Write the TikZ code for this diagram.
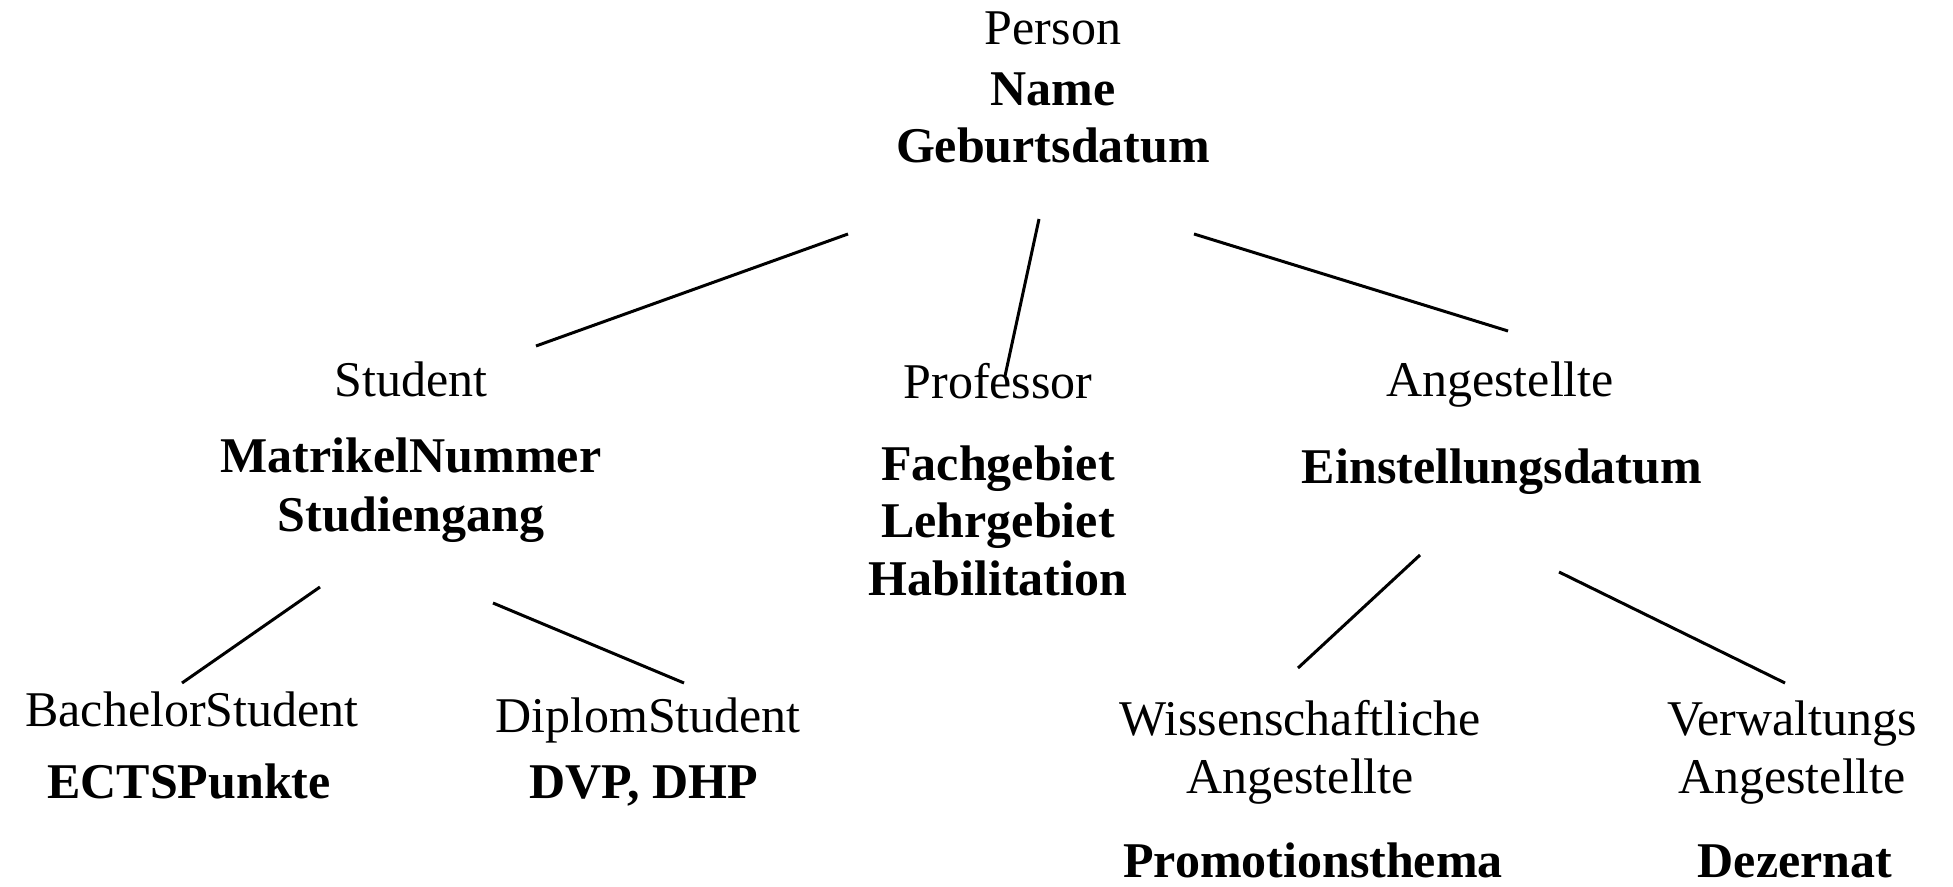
\documentclass[tikz,border=0pt]{standalone}
\usepackage{fontspec}
\setmainfont{Liberation Serif}
\begin{document}
\begin{tikzpicture}[x=0.5pt,y=-0.5pt,
  lbl/.style={anchor=base,inner sep=0pt,font=\fontsize{25}{30}\selectfont},
  attr/.style={lbl,font=\fontsize{25}{30}\selectfont\bfseries},
  edge/.style={line width=1.5pt}]
\useasboundingbox (0,0) rectangle (1953,887);

% root class
\node[lbl]  (person)  at (1053,45)  {Person};
\node[attr] (pname)   at (1053,106) {Name};
\node[attr] (pgeb)    at (1053,163) {Geburtsdatum};

% second level
\node[lbl]  (student) at (411,396)  {Student};
\node[attr] (smat)    at (411,473)  {MatrikelNummer};
\node[attr] (sstud)   at (411,531)  {Studiengang};

\node[lbl]  (prof)    at (998,399)  {Professor};
\node[attr] (pfach)   at (998,480)  {Fachgebiet};
\node[attr] (plehr)   at (998,537)  {Lehrgebiet};
\node[attr] (phab)    at (998,595)  {Habilitation};

\node[lbl]  (ang)     at (1500,397) {Angestellte};
\node[attr] (aein)    at (1502,483) {Einstellungsdatum};

% third level
\node[lbl]  (bach)    at (192,726)  {BachelorStudent};
\node[attr] (bects)   at (189,798)  {ECTSPunkte};
\node[lbl]  (dipl)    at (648,732)  {DiplomStudent};
\node[attr] (ddvp)    at (644,798)  {DVP, DHP};

\node[lbl]  (wiss1)   at (1300,735) {Wissenschaftliche};
\node[lbl]  (wiss2)   at (1300,793) {Angestellte};
\node[attr] (wprom)   at (1313,877) {Promotionsthema};
\node[lbl]  (verw1)   at (1792,735) {Verwaltungs};
\node[lbl]  (verw2)   at (1792,793) {Angestellte};
\node[attr] (vdez)    at (1795,877) {Dezernat};

% connector end points
\coordinate (c1a) at (848,234);  \coordinate (c1b) at (536,346);
\coordinate (c2a) at (1039,219); \coordinate (c2b) at (1005,376);
\coordinate (c3a) at (1194,234); \coordinate (c3b) at (1508,331);
\coordinate (c4a) at (320,587);  \coordinate (c4b) at (182,683);
\coordinate (c5a) at (493,603);  \coordinate (c5b) at (684,683);
\coordinate (c6a) at (1420,555); \coordinate (c6b) at (1298,668);
\coordinate (c7a) at (1559,572); \coordinate (c7b) at (1785,683);

\draw[edge] (c1a) -- (c1b);
\draw[edge] (c2a) -- (c2b);
\draw[edge] (c3a) -- (c3b);
\draw[edge] (c4a) -- (c4b);
\draw[edge] (c5a) -- (c5b);
\draw[edge] (c6a) -- (c6b);
\draw[edge] (c7a) -- (c7b);
\end{tikzpicture}
\end{document}
